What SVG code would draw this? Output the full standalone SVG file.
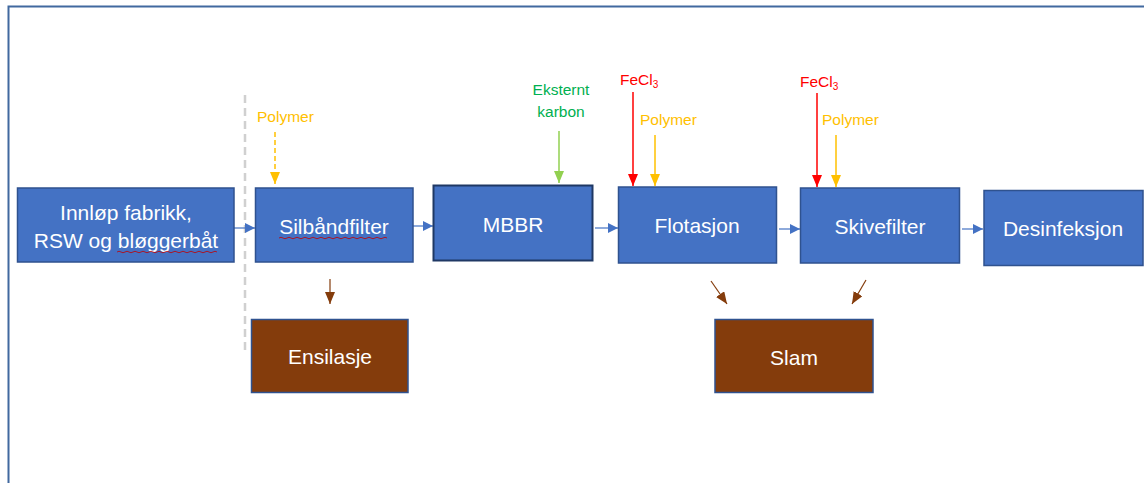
<svg xmlns="http://www.w3.org/2000/svg" width="1144" height="483" viewBox="0 0 1144 483">
<style>
.box{fill:#4472C4;stroke:#2F528F;stroke-width:1.5}
.brown{fill:#843C0C;stroke:#2F528F;stroke-width:1.5}
.t{font-family:"Liberation Sans",Arial,sans-serif;font-size:21px;fill:#FFFFFF;text-anchor:middle}
.s{font-family:"Liberation Sans",Arial,sans-serif;font-size:15.5px}
.flow{stroke:#4472C4;stroke-width:1.2;fill:none}
.sq{stroke:#C00000;stroke-width:0.8;fill:none}
</style>
<defs>
<marker id="ab" markerUnits="userSpaceOnUse" markerWidth="12" markerHeight="12" refX="10" refY="5" orient="auto"><path d="M0,0 L10,5 L0,10 Z" fill="#4472C4"/></marker>
<marker id="ar" markerUnits="userSpaceOnUse" markerWidth="14" markerHeight="12" refX="12" refY="5" orient="auto"><path d="M0,0 L12,5 L0,10 Z" fill="#FF0000"/></marker>
<marker id="ao" markerUnits="userSpaceOnUse" markerWidth="14" markerHeight="12" refX="12" refY="5" orient="auto"><path d="M0,0 L12,5 L0,10 Z" fill="#FFC000"/></marker>
<marker id="ag" markerUnits="userSpaceOnUse" markerWidth="14" markerHeight="12" refX="12" refY="5" orient="auto"><path d="M0,0 L12,5 L0,10 Z" fill="#92D050"/></marker>
<marker id="an" markerUnits="userSpaceOnUse" markerWidth="14" markerHeight="12" refX="12" refY="5" orient="auto"><path d="M0,0 L12,5 L0,10 Z" fill="#843C0C"/></marker>
</defs>
<rect width="1144" height="483" fill="#FFFFFF"/>
<path d="M8.5,483 V6.5 H1144" fill="none" stroke="#41699F" stroke-width="2"/>
<line x1="245" y1="95" x2="245" y2="350" stroke="#D0D0D0" stroke-width="2.5" stroke-dasharray="8,5"/>

<g id="connectors">
<line class="flow" x1="234" y1="228" x2="255" y2="228" marker-end="url(#ab)"/>
<line class="flow" x1="413" y1="226" x2="433" y2="226" marker-end="url(#ab)"/>
<line class="flow" x1="595" y1="228" x2="618" y2="228" marker-end="url(#ab)"/>
<line class="flow" x1="779" y1="229" x2="800" y2="229" marker-end="url(#ab)"/>
<line class="flow" x1="962" y1="229" x2="983" y2="229" marker-end="url(#ab)"/>
<line x1="275" y1="132" x2="275" y2="184" stroke="#FFC000" stroke-width="1.5" stroke-dasharray="5,3" marker-end="url(#ao)"/>
<line x1="559" y1="131" x2="559" y2="183" stroke="#92D050" stroke-width="1.5" marker-end="url(#ag)"/>
<line x1="633" y1="92" x2="633" y2="186" stroke="#FF0000" stroke-width="1.5" marker-end="url(#ar)"/>
<line x1="655" y1="135" x2="655" y2="186" stroke="#FFC000" stroke-width="1.5" marker-end="url(#ao)"/>
<line x1="817" y1="93" x2="817" y2="187" stroke="#FF0000" stroke-width="1.5" marker-end="url(#ar)"/>
<line x1="836" y1="135" x2="836" y2="187" stroke="#FFC000" stroke-width="1.5" marker-end="url(#ao)"/>
<line x1="330" y1="279" x2="330" y2="304" stroke="#843C0C" stroke-width="1.2" marker-end="url(#an)"/>
<line x1="711" y1="281" x2="727" y2="304" stroke="#843C0C" stroke-width="1.2" marker-end="url(#an)"/>
<line x1="866" y1="280" x2="852" y2="304" stroke="#843C0C" stroke-width="1.2" marker-end="url(#an)"/>
</g>

<g id="n-innlop">
<rect class="box" x="17.5" y="188" width="216.5" height="74"/>
<text class="t" x="126" y="220">Innløp fabrikk,</text>
<text class="t" x="126" y="248">RSW og bløggerbåt</text>
<path class="sq" d="M117,252 q2,-1.5 4,0 t4,0 t4,0 t4,0 t4,0 t4,0 t4,0 t4,0 t4,0 t4,0 t4,0 t4,0 t4,0 t4,0 t4,0 t4,0 t4,0 t4,0 t4,0 t4,0 t4,0 t4,0 t4,0 t4,0 t4,0"/>
</g>
<g id="n-silband">
<rect class="box" x="255.5" y="188" width="157.5" height="74"/>
<text class="t" x="334" y="234">Silbåndfilter</text>
<path class="sq" d="M279,238 q2,-1.5 4,0 t4,0 t4,0 t4,0 t4,0 t4,0 t4,0 t4,0 t4,0 t4,0 t4,0 t4,0 t4,0 t4,0 t4,0 t4,0 t4,0 t4,0 t4,0 t4,0 t4,0 t4,0 t4,0 t4,0 t4,0 t4,0 t4,0"/>
</g>
<g id="n-mbbr">
<rect class="box" x="433.5" y="185.5" width="159" height="75" style="stroke:#1F3864;stroke-width:2"/>
<text class="t" x="513" y="232">MBBR</text>
</g>
<g id="n-flotasjon">
<rect class="box" x="618.5" y="187" width="158" height="76"/>
<text class="t" x="697" y="233">Flotasjon</text>
</g>
<g id="n-skivefilter">
<rect class="box" x="800.5" y="188" width="159" height="75"/>
<text class="t" x="880" y="234">Skivefilter</text>
</g>
<g id="n-desinfeksjon">
<rect class="box" x="984" y="190.5" width="159" height="75"/>
<text class="t" x="1063" y="236">Desinfeksjon</text>
</g>
<g id="n-ensilasje">
<rect class="brown" x="251.5" y="319.5" width="156.5" height="73"/>
<text class="t" x="330" y="364">Ensilasje</text>
</g>
<g id="n-slam">
<rect class="brown" x="715" y="319.5" width="158" height="73"/>
<text class="t" x="794" y="365">Slam</text>
</g>

<g id="labels">
<text class="s" x="257" y="122" fill="#FFC000">Polymer</text>
<text class="s" x="561" y="95" fill="#00B050" text-anchor="middle">Eksternt</text>
<text class="s" x="561" y="117" fill="#00B050" text-anchor="middle">karbon</text>
<text class="s" x="620" y="85" fill="#FF0000">FeCl<tspan font-size="10" dy="3">3</tspan></text>
<text class="s" x="640" y="125" fill="#FFC000">Polymer</text>
<text class="s" x="800" y="87" fill="#FF0000">FeCl<tspan font-size="10" dy="3">3</tspan></text>
<text class="s" x="822" y="125" fill="#FFC000">Polymer</text>
</g>
</svg>
